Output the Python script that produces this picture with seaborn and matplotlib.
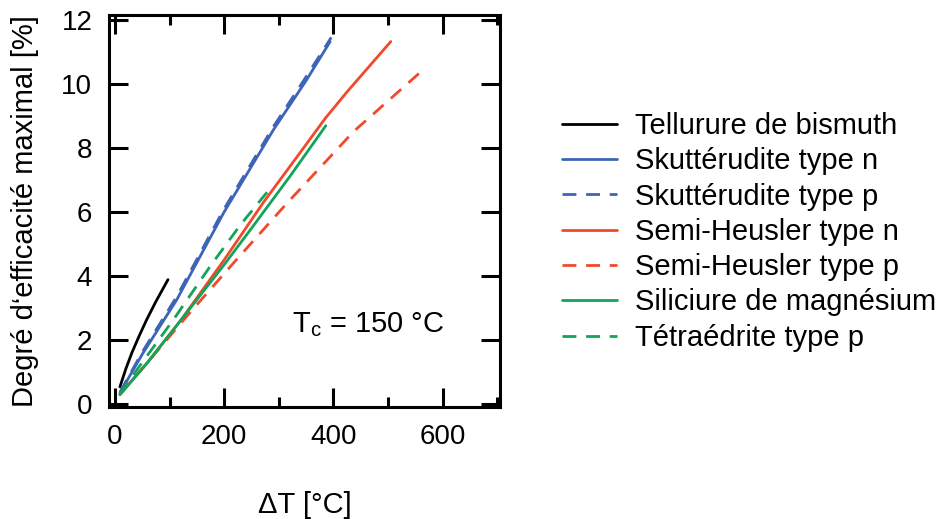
import numpy as np
import pandas as pd
import matplotlib
matplotlib.use('Agg')
import matplotlib.pyplot as plt
import seaborn as sns
from matplotlib.ticker import MultipleLocator

# Curves (delta T in °C, max efficiency in %)
bite_x = [9, 20, 31, 45, 58, 75, 97]
bite_y = [0.53, 1.1, 1.6, 2.15, 2.63, 3.2, 3.88]

skut_n_x = [9, 50, 113, 199, 290, 350, 394]
skut_n_y = [0.34, 1.55, 3.25, 5.97, 8.56, 10.1, 11.32]

skut_p_x = [9, 50, 113, 199, 290, 350, 396]
skut_p_y = [0.36, 1.62, 3.35, 6.07, 8.66, 10.22, 11.45]

hh_n_x = [9, 60, 120, 200, 272, 339, 385, 425, 505]
hh_n_y = [0.3, 1.3, 2.6, 4.5, 6.3, 7.85, 8.92, 9.75, 11.32]

hh_p_x = [9, 60, 131, 217, 315, 437, 557]
hh_p_y = [0.3, 1.3, 2.73, 4.4, 6.27, 8.51, 10.33]

mgsi_x = [9, 60, 120, 200, 248, 320, 386]
mgsi_y = [0.28, 1.3, 2.6, 4.35, 5.44, 7.1, 8.69]

tetra_x = [9, 40, 107, 174, 230, 287]
tetra_y = [0.3, 1.06, 2.63, 4.29, 5.6, 6.79]

labels = ['Tellurure de bismuth', 'Skuttérudite type n', 'Skuttérudite type p',
          'Semi-Heusler type n', 'Semi-Heusler type p',
          'Siliciure de magnésium', 'Tétraédrite type p']
colors = ['#000000', '#3E64B8', '#3E64B8', '#F04A2A', '#F04A2A', '#12A55A', '#12A55A']
dashed = [False, False, True, False, True, False, True]

series = [(bite_x, bite_y), (skut_n_x, skut_n_y), (skut_p_x, skut_p_y),
          (hh_n_x, hh_n_y), (hh_p_x, hh_p_y), (mgsi_x, mgsi_y), (tetra_x, tetra_y)]

rows = []
for lab, (xs, ys) in zip(labels, series):
    for x, y in zip(xs, ys):
        rows.append({'dT': x, 'eta': y, 'mat': lab})
df = pd.DataFrame(rows)

sns.set_style('ticks')
plt.rcParams['font.family'] = ['Liberation Sans', 'DejaVu Sans']
plt.rcParams['mathtext.fontset'] = 'custom'
plt.rcParams['mathtext.rm'] = 'Liberation Sans'
plt.rcParams['mathtext.it'] = 'Liberation Sans'
for k in ['text.color', 'axes.labelcolor', 'xtick.color', 'ytick.color', 'axes.edgecolor']:
    plt.rcParams[k] = 'black'

fig = plt.figure(figsize=(9.49, 5.19), dpi=100)
ax = fig.add_axes([109 / 949, 1 - 407 / 519, 391 / 949, 392 / 519])

palette = dict(zip(labels, colors))
dash_map = {lab: ((5, 3.5) if d else '') for lab, d in zip(labels, dashed)}
sns.lineplot(data=df, x='dT', y='eta', hue='mat', style='mat', hue_order=labels,
             style_order=labels, palette=palette, dashes=dash_map, lw=2,
             sort=False, estimator=None, ax=ax, legend=True)

ax.set_xlim(-11, 705)
ax.set_ylim(-0.1, 12.15)
ax.xaxis.set_major_locator(MultipleLocator(200))
ax.xaxis.set_minor_locator(MultipleLocator(100))
ax.yaxis.set_major_locator(MultipleLocator(2))
ax.tick_params(which='both', direction='in', top=True, right=True, width=2.2,
               labelsize=20, colors='black')
ax.tick_params(which='major', length=14, pad=12)
ax.tick_params(which='minor', length=7)
for s in ax.spines.values():
    s.set_linewidth(2.2)
    s.set_color('black')

ax.set_xlabel('ΔT [°C]', fontsize=21, labelpad=30)
ax.set_ylabel('Degré d‘efficacité maximal [%]', fontsize=21, labelpad=16)

ax.text(325, 2.25, r'T$_\mathrm{c}$ = 150 °C', fontsize=21)

handles, labs = ax.get_legend_handles_labels()
ax.get_legend().remove()
fig.legend(handles, labs, loc='upper left', bbox_to_anchor=(562 / 949, 1 - 112 / 519),
           frameon=False, fontsize=21, handlelength=1.9, handletextpad=0.6,
           labelspacing=0.25, borderpad=0, borderaxespad=0)

fig.savefig('out.png', dpi=100)
